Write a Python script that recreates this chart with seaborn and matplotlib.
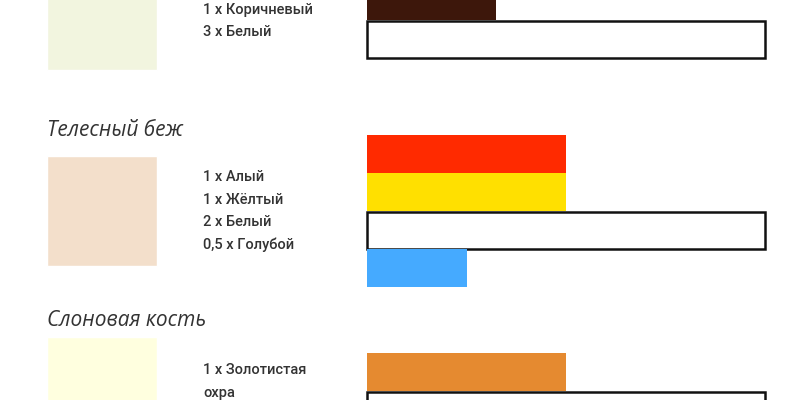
import matplotlib
matplotlib.use("Agg")
import matplotlib.pyplot as plt
import seaborn as sns

sns.set_theme(style="white")
plt.rcParams['font.family'] = ['Roboto', 'DejaVu Sans']

titles = ["", "Телесный беж", "Слоновая кость"]
title_y = [None, 131, 321]
swatch_colors = ["#f2f5df", "#f3dfcb", "#ffffdf"]
swatch_top = [-40, 156, 337]
labels = [["1 x Коричневый", "3 x Белый"],
          ["1 x Алый", "1 x Жёлтый", "2 x Белый", "0,5 x Голубой"],
          ["1 x Золотистая", "охра"]]
label_top = [10, 177, 370]
bar_values = [[0.65, 2.0], [1.0, 1.0, 2.0, 0.5], [1.0, 2.0]]
bar_colors = [["#3d170b", "#ffffff"],
              ["#ff2a00", "#ffe000", "#ffffff", "#45aaff"],
              ["#e58a30", "#ffffff"]]
bar_top = [-18, 135, 353]

PX = 199
fig = plt.figure(figsize=(8, 4), dpi=100)
ax = fig.add_axes([0, 0, 1, 1])
ax.set_xlim(0, 800)
ax.set_ylim(400, 0)
ax.axis("off")

for g in range(3):
    ax.barh(swatch_top[g] + 55, 110, height=110, left=47, color=swatch_colors[g])
    if titles[g]:
        ax.text(47, title_y[g], titles[g], fontsize=15, style="italic",
                family=["Open Sans", "DejaVu Sans"], color="#333333", va="center")
    for i, t in enumerate(labels[g]):
        ax.text(203, label_top[g] + i * 22.5, t, fontsize=10.5, color="#333333",
                va="center", fontweight="medium")
    y = bar_top[g]
    for v, c in zip(bar_values[g], bar_colors[g]):
        white = c == "#ffffff"
        ax.barh(y + 19 if not white else y + 19, v * PX, height=37 if white else 38,
                left=367, color=c, edgecolor="#111111" if white else c,
                linewidth=1.8 if white else 0)
        y += 38

fig.savefig("out.png", dpi=100, facecolor="white")
